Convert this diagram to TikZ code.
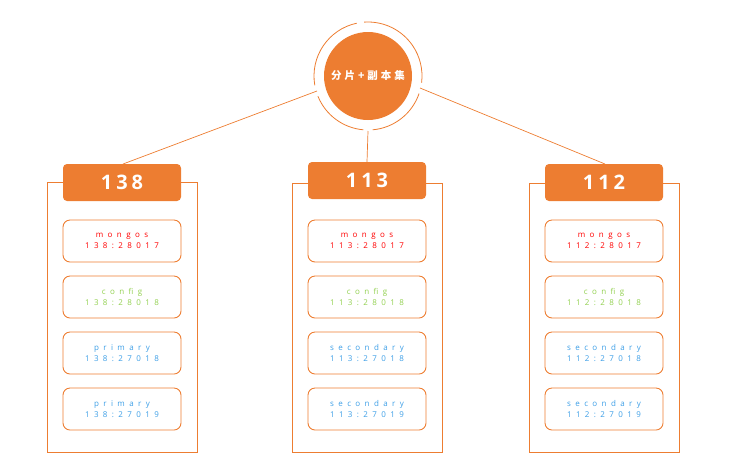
\documentclass[tikz,border=0pt]{standalone}
\usepackage{fontspec}
\setmainfont{Open Sans}
\newfontfamily\cjk{Noto Sans CJK SC}
\definecolor{org}{HTML}{ED7D31}
\definecolor{mred}{HTML}{FF0000}
\definecolor{mgrn}{HTML}{92D050}
\definecolor{mblu}{HTML}{3C9EE6}
\begin{document}
\begin{tikzpicture}[x=1pt,y=-1pt,
  outer/.style={draw=org,line width=0.8pt},
  head/.style={fill=org,rounded corners=4pt,minimum width=118pt,minimum height=37pt,inner sep=0pt,text=white,font=\fontsize{20}{20}\selectfont\bfseries\addfontfeature{LetterSpace=20}},
  box/.style={draw=org,line width=0.9pt,rounded corners=7pt,minimum width=118pt,minimum height=42pt,inner sep=0pt,align=center,font=\fontsize{8}{11}\selectfont\addfontfeature{LetterSpace=55}},
  ring/.style={org,line width=0.8pt},
  conn/.style={draw=org,line width=0.7pt}]
\useasboundingbox (0,0) rectangle (735,475);
\node[circle,fill=org,minimum size=88pt,inner sep=0pt,text=white,font=\cjk\bfseries\fontsize{10.5}{10.5}\selectfont] (hub) at (368,76) {分\hspace{3pt}片\hspace{3pt}+\hspace{3pt}副\hspace{3pt}本\hspace{3pt}集};
\draw[ring] (368,76) ++(19:54) arc[start angle=19,end angle=85,radius=54];
\draw[ring] (368,76) ++(95:54) arc[start angle=95,end angle=158,radius=54];
\draw[ring] (368,76) ++(170:54) arc[start angle=170,end angle=258,radius=54];
\draw[ring] (368,76) ++(266:54) arc[start angle=266,end angle=367,radius=54];
\foreach \n/\x/\hy/\oy/\c/\r/\s in {a/63/164/182/138/primary/primary, b/308/162/183/113/secondary/secondary, c/545/164/183/112/secondary/secondary}{
  \draw[outer] (\x-16,\oy) rectangle (\x+134,452);
  \node[head] (h\n) at (\x+59,\hy+18.5) {\c};
  \node[box,text=mred] (m\n) at (\x+59,241) {mongos\\\c:28017};
  \node[box,text=mgrn] (f\n) at (\x+59,297) {config\\\c:28018};
  \node[box,text=mblu] (p\n) at (\x+59,353) {\r\\\c:27018};
  \node[box,text=mblu] (s\n) at (\x+59,409) {\s\\\c:27019};
}
\coordinate (la) at (317,91);
\coordinate (lb) at (368,131);
\coordinate (lc) at (420,88);
\draw[conn] (la) -- (123,164);
\draw[conn] (lb) -- (hb.north);
\draw[conn] (lc) -- (605,164);
\end{tikzpicture}
\end{document}
